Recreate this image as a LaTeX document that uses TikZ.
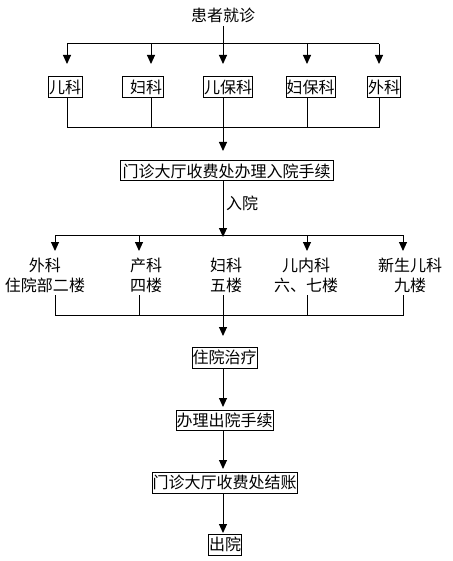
\documentclass[tikz,border=0pt]{standalone}
\usepackage{fontspec}
\setmainfont{Noto Sans CJK SC}
\usetikzlibrary{arrows.meta}
\begin{document}
\begin{tikzpicture}[x=1pt,y=-1pt,
  every node/.style={font=\fontsize{16}{20}\selectfont},
  box/.style={draw,line width=1pt,inner xsep=0.5pt,inner ysep=0pt,minimum height=21pt},
  ln/.style={line width=1pt},
  arr/.style={line width=1pt,-{Triangle[width=8pt,length=9pt]}}]
\useasboundingbox (0,0) rectangle (452,561);
% top
\node (top) at (223,15) {患者就诊};
\coordinate (h1) at (223,44);
\node[box,minimum width=34pt] (b1) at (65,87.5) {儿科};
\node[box,minimum width=41pt] (b2) at (143,87.5) {\hspace{6pt}妇科};
\node[box,minimum width=48pt] (b3) at (228,87.5) {儿保科};
\node[box,minimum width=49pt] (b4) at (310.5,87.5) {妇保科};
\node[box,minimum width=32pt] (b5) at (384,87.5) {外科};
\coordinate (t1) at (67,64); \coordinate (t2) at (151,64); \coordinate (t3) at (223,64);
\coordinate (t4) at (307,64); \coordinate (t5) at (379,64);
\draw[ln] (top.south) -- (h1);
\draw[ln] (h1 -| t1) -- (h1 -| t5);
\foreach \i in {1,...,5}{\draw[arr] (h1 -| t\i) -- (t\i);}
\coordinate (h2) at (223,128);
\draw[ln] (b1.south -| t1) -- (h2 -| t1) -- (h2 -| t5) -- (b5.south -| t5);
\draw[ln] (b2.south -| t2) -- (h2 -| t2);
\draw[ln] (b4.south -| t4) -- (h2 -| t4);
\draw[ln] (b3.south -| t3) -- (h2);
% admission
\node[box,minimum width=213pt,minimum height=20pt] (m1) at (226.5,171) {门诊大厅收费处办理入院手续};
\coordinate (a1) at (223,151);
\draw[arr] (h2) -- (a1);
\coordinate (h3) at (223,235);
\draw[arr] (m1.south -| h3) -- ([yshift=-2pt]h3);
\node[anchor=west,inner sep=0pt] (lab) at (226,203) {入院};
\coordinate (u1) at (55,251); \coordinate (u2) at (139,251); \coordinate (u4) at (307,251); \coordinate (u5) at (403,251);
\draw[ln] (h3 -| u1) -- (h3 -| u5);
\foreach \i in {1,2,4,5}{\draw[arr] (h3 -| u\i) -- (u\i);}
% wards
\node[align=center,inner sep=0pt] (w1) at (45,275) {外科\\住院部二楼};
\node[align=center,inner sep=0pt] (w2) at (146,275) {产科\\四楼};
\node[align=center,inner sep=0pt] (w3) at (226,275) {妇科\\五楼};
\node[align=center,inner sep=0pt] (w4) at (306,275) {儿内科\\六、七楼};
\node[align=center,inner sep=0pt] (w5) at (410,275) {新生儿科\\九楼};
\coordinate (g) at (223,295);
\coordinate (h4) at (223,315);
\draw[ln] (g -| u1) -- (h4 -| u1) -- (h4 -| u5) -- (g -| u5);
\draw[ln] (g -| u2) -- (h4 -| u2);
\draw[ln] (g -| u4) -- (h4 -| u4);
% discharge
\node[box,minimum width=65pt] (n1) at (224.5,357.5) {住院治疗};
\node[box,minimum width=97pt,minimum height=20pt] (n2) at (224.5,420) {办理出院手续};
\node[box,minimum width=145pt] (n3) at (224.5,482.5) {门诊大厅收费处结账};
\node[box,minimum width=32pt] (n4) at (225,544.5) {出院};
\coordinate (p1) at (223,336); \coordinate (p2) at (223,407);
\coordinate (p3) at (223,469); \coordinate (p4) at (223,533);
\draw[arr] (g) -- (p1);
\draw[arr] (n1.south -| p2) -- (p2);
\draw[arr] (n2.south -| p3) -- (p3);
\draw[arr] (n3.south -| p4) -- (p4);
\end{tikzpicture}
\end{document}
